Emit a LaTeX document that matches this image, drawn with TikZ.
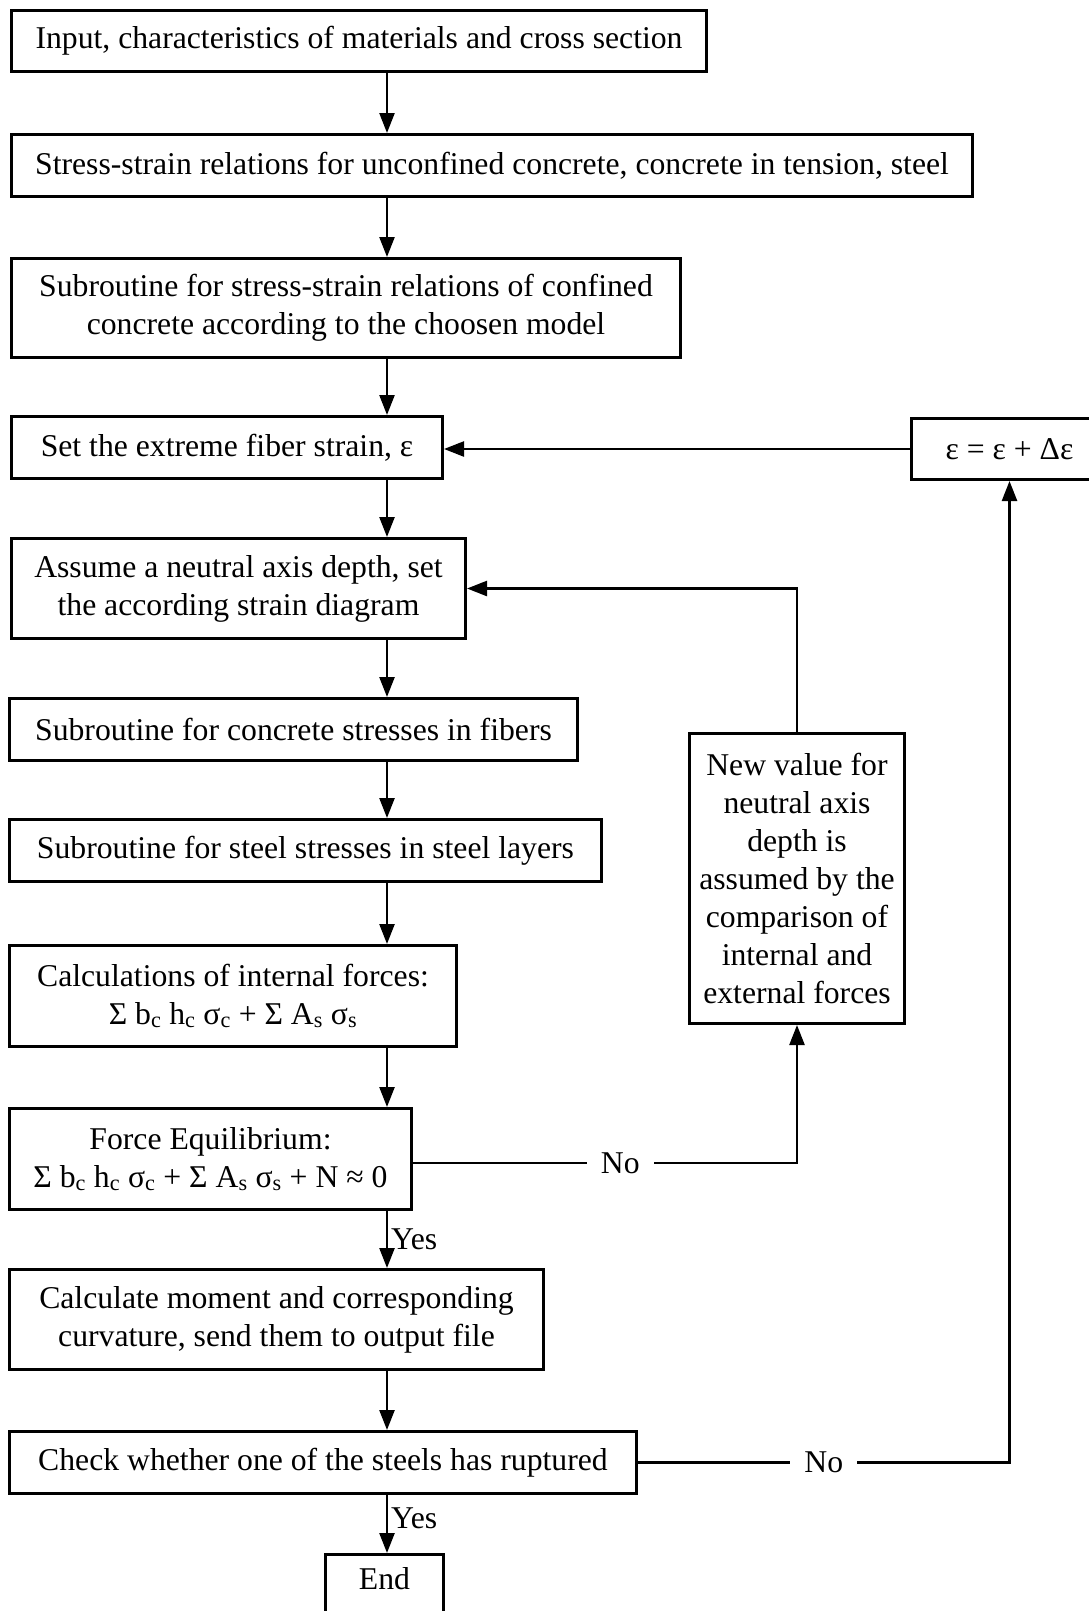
\documentclass[tikz,border=0pt]{standalone}
\usepackage{fontspec}
\setmainfont{Liberation Serif}
\usetikzlibrary{arrows.meta}

\begin{document}
\begin{tikzpicture}[x=1pt, y=-1pt,
    box/.style  = {draw, line width=3pt, anchor=north west, inner sep=0pt,
                   align=center, font=\fontsize{31.7}{38}\selectfont},
    arr/.style  = {line width=2.4pt, -{Triangle[length=20pt, width=15pt]}},
    tag/.style  = {font=\fontsize{31.7}{38}\selectfont, fill=white, inner xsep=14pt, inner ysep=4pt}]
  \useasboundingbox (0,0) rectangle (1089,1611);
  \coordinate (spine) at (387,0);

  \node [box, minimum width=695pt, minimum height=61pt]  (input)  at (10,9)    {Input, characteristics of materials and cross section};
  \node [box, minimum width=961pt, minimum height=62pt]  (rel)    at (10,133)  {Stress-strain relations for unconfined concrete, concrete in tension, steel};
  \node [box, minimum width=669pt, minimum height=99pt]  (conf)   at (10,257)  {Subroutine for stress-strain relations of confined\\concrete according to the choosen model};
  \node [box, minimum width=431pt, minimum height=62pt]  (strain) at (10,415)  {Set the extreme fiber strain, ε};
  \node [box, minimum width=196pt, minimum height=61pt]  (incr)   at (910,417) {ε = ε + Δε};
  \node [box, minimum width=454pt, minimum height=100pt] (assume) at (10,537)  {Assume a neutral axis depth, set\\the according strain diagram};
  \node [box, minimum width=568pt, minimum height=62pt]  (fibers) at (8,697)   {Subroutine for concrete stresses in fibers};
  \node [box, minimum width=592pt, minimum height=62pt]  (steel)  at (8,818)   {Subroutine for steel stresses in steel layers};
  \node [box, minimum width=215pt, minimum height=290pt] (newval) at (688,732) {New value for\\neutral axis\\depth is\\assumed by the\\comparison of\\internal and\\external forces};
  \node [box, minimum width=447pt, minimum height=101pt] (calc)   at (8,944)   {Calculations of internal forces:\\Σ b\textsubscript{c} h\textsubscript{c} σ\textsubscript{c} + Σ A\textsubscript{s} σ\textsubscript{s}};
  \node [box, minimum width=402pt, minimum height=101pt] (equil)  at (8,1107)  {Force Equilibrium:\\Σ b\textsubscript{c} h\textsubscript{c} σ\textsubscript{c} + Σ A\textsubscript{s} σ\textsubscript{s} + N ≈ 0};
  \node [box, minimum width=534pt, minimum height=100pt] (moment) at (8,1268)  {Calculate moment and corresponding\\curvature, send them to output file};
  \node [box, minimum width=627pt, minimum height=62pt]  (check)  at (8,1430)  {Check whether one of the steels has ruptured};
  \node [box, minimum width=118pt, minimum height=70pt, text height=16pt, text depth=16pt] (end) at (324,1553) {End};

  \draw [arr] (input.south -| spine)  -- (rel.north -| spine);
  \draw [arr] (rel.south -| spine)    -- (conf.north -| spine);
  \draw [arr] (conf.south -| spine)   -- (strain.north -| spine);
  \draw [arr] (strain.south -| spine) -- (assume.north -| spine);
  \draw [arr] (assume.south -| spine) -- (fibers.north -| spine);
  \draw [arr] (fibers.south -| spine) -- (steel.north -| spine);
  \draw [arr] (steel.south -| spine)  -- (calc.north -| spine);
  \draw [arr] (calc.south -| spine)   -- (equil.north -| spine);
  \draw [arr] (equil.south -| spine)  -- node [tag, right, fill=none, inner sep=3pt] {Yes} (moment.north -| spine);
  \draw [arr] (moment.south -| spine) -- (check.north -| spine);
  \draw [arr] (check.south -| spine)  -- node [tag, right, fill=none, inner sep=3pt, pos=0.4] {Yes} (end.north -| spine);

  \draw [arr] (incr.west) -- (incr.west -| strain.east);
  \draw [arr] (newval.north) |- (assume.east);
  \draw [arr] ([yshift=-4pt]equil.east) -| node [tag, pos=0.27] {No} (newval.south);
  \draw [arr] (check.east) -| node [tag, pos=0.25] {No} (incr.south);
\end{tikzpicture}
\end{document}
